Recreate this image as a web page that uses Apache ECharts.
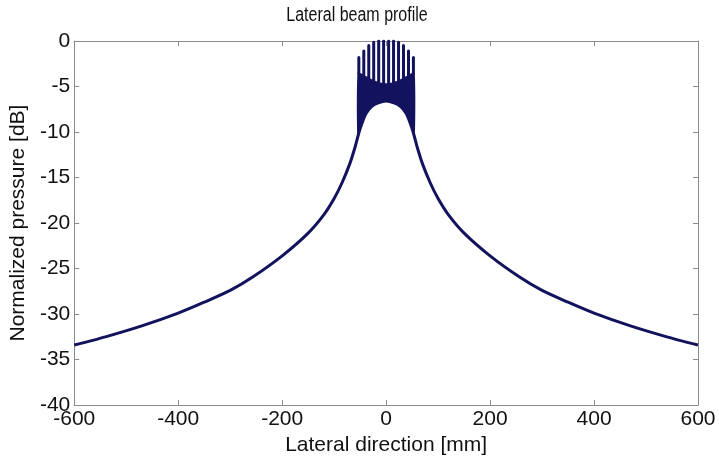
<!DOCTYPE html>
<html>
<head>
<meta charset="utf-8">
<script src="https://cdn.jsdelivr.net/npm/echarts@6/dist/echarts.min.js"></script>
<style>
  html, body { margin: 0; padding: 0; background: #fff; }
  #chart { width: 719px; height: 461px; }
</style>
</head>
<body>
<div id="chart"></div>
<script>
  // main beam profile (outer curve + lower envelope of the centre)
  const profileX = [-600, -540, -470, -400, -350, -300, -256, -200, -150, -120, -100, -85, -70, -60, -52, -45, -38, -28, -15, 0,
    15, 28, 38, 45, 52, 60, 70, 85, 100, 120, 150, 200, 256, 300, 350, 400, 470, 540, 600]
  const profileDb = [-33.4, -32.5, -31.3, -29.9, -28.7, -27.4, -25.9, -23.6, -21.1, -19.1, -17.3, -15.6, -13.5, -11.7, -10.0, -8.8, -7.9, -7.2, -6.8, -6.6,
    -6.8, -7.2, -7.9, -8.8, -10.0, -11.7, -13.5, -15.6, -17.3, -19.1, -21.1, -23.6, -25.9, -27.4, -28.7, -29.9, -31.3, -32.5, -33.4]

  // dense oscillation band in the centre
  const bandX = [-55, -45, -38, -28, -15, 0, 15, 28, 38, 45, 55]
  const bandLow = [-10.6, -8.8, -7.9, -7.2, -6.8, -6.6, -6.8, -7.2, -7.9, -8.8, -10.6]
  const bandHigh = [-3.5, -3.8, -4.1, -4.4, -4.7, -4.8, -4.7, -4.4, -4.1, -3.8, -3.5]

  // narrow peaks on top of the band
  const spikeX = [-52.5, -43, -33.4, -23.9, -14.3, -4.8, 4.8, 14.3, 23.9, 33.4, 43, 52.5]
  const spikeTop = [-1.8, -1.1, -0.5, -0.15, 0, 0, 0, 0, -0.15, -0.5, -1.1, -1.8]
  const spikeBase = [-3.6, -3.9, -4.2, -4.5, -4.7, -4.8, -4.8, -4.7, -4.5, -4.2, -3.9, -3.6]

  const xTicks = [-600, -400, -200, 0, 200, 400, 600]
  const yTicks = [0, -5, -10, -15, -20, -25, -30, -35, -40]

  const lineColor = '#12125e'
  const axisColor = '#8c8c8c'
  const font = '"Liberation Sans", Arial, sans-serif'

  const chart = echarts.init(document.getElementById('chart'))

  const spikeData = []
  spikeX.forEach((x, i) => {
    spikeData.push([x, spikeBase[i]], [x, spikeTop[i]], [x, spikeBase[i]])
  })

  const axisCommon = {
    type: 'value',
    axisLine: { show: true, onZero: false, lineStyle: { color: axisColor, width: 1 } },
    axisTick: { show: true, inside: true, length: 5, lineStyle: { color: axisColor } },
    splitLine: { show: false }
  }

  chart.setOption({
    animation: false,
    backgroundColor: '#fff',
    graphic: [{
      type: 'text',
      x: 357,
      y: 5,
      scaleX: 0.8,
      style: {
        text: 'Lateral beam profile',
        font: '20px "Liberation Sans", Arial, sans-serif',
        fill: '#111',
        textAlign: 'center',
        textVerticalAlign: 'top'
      }
    }],
    grid: { left: 70, right: 21, top: 41, bottom: 51 },
    xAxis: [
      Object.assign({}, axisCommon, {
        min: xTicks[0], max: xTicks[xTicks.length - 1], interval: 200,
        name: 'Lateral direction [mm]', nameLocation: 'middle', nameGap: 27,
        nameTextStyle: { fontFamily: font, fontSize: 21, color: '#111' },
        axisLabel: { fontFamily: font, fontSize: 21, color: '#111', margin: 4 }
      }),
      Object.assign({}, axisCommon, {
        position: 'top', min: xTicks[0], max: xTicks[xTicks.length - 1], interval: 200,
        axisLabel: { show: false }
      })
    ],
    yAxis: [
      Object.assign({}, axisCommon, {
        min: yTicks[yTicks.length - 1], max: yTicks[0], interval: 5,
        name: 'Normalized pressure [dB]', nameLocation: 'middle', nameGap: 34,
        nameTextStyle: { fontFamily: font, fontSize: 21, color: '#111' },
        axisLabel: { fontFamily: font, fontSize: 21, color: '#111', margin: 4 }
      }),
      Object.assign({}, axisCommon, {
        position: 'right', min: yTicks[yTicks.length - 1], max: yTicks[0], interval: 5,
        axisLabel: { show: false }
      })
    ],
    series: [
      {
        // filled band between lower envelope and band top
        type: 'custom',
        coordinateSystem: 'cartesian2d',
        silent: true,
        data: [[0, bandLow[5]]],
        renderItem: function (params, api) {
          const pts = []
          bandX.forEach((x, i) => pts.push(api.coord([x, bandHigh[i]])))
          for (let i = bandX.length - 1; i >= 0; i--) pts.push(api.coord([bandX[i], bandLow[i]]))
          return {
            type: 'polygon',
            shape: { points: pts, smooth: 0.2 },
            style: { fill: lineColor }
          }
        },
        z: 2
      },
      {
        type: 'line',
        data: spikeData,
        showSymbol: false, silent: true,
        lineStyle: { color: lineColor, width: 3, cap: 'round', join: 'round' },
        z: 3
      },
      {
        type: 'line',
        data: profileX.map((x, i) => [x, profileDb[i]]),
        showSymbol: false, silent: true,
        smooth: 0.25,
        lineStyle: { color: lineColor, width: 3 },
        z: 4
      }
    ]
  })
</script>
</body>
</html>
